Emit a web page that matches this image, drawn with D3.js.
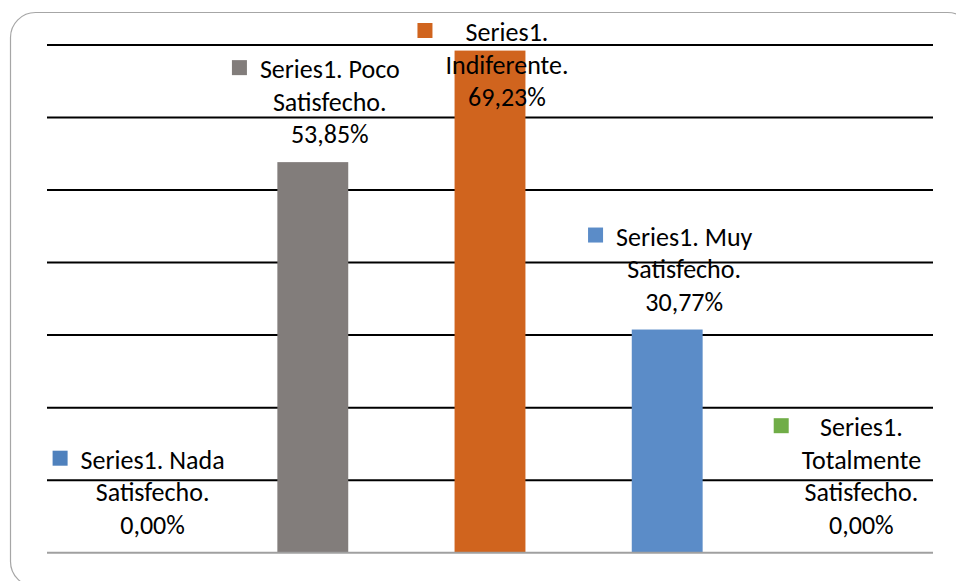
<!DOCTYPE html>
<html>
<head>
<meta charset="utf-8">
<script src="https://cdn.jsdelivr.net/npm/d3@7"></script>
<style>
  body { margin: 0; background: #fff; }
  svg { display: block; }
</style>
</head>
<body>
<div id="chart-area"></div>
<script>
/*
*    satisfaction bar chart
*/
var categories = ["Nada Satisfecho", "Poco Satisfecho", "Indiferente", "Muy Satisfecho", "Totalmente Satisfecho"];
var values = [0, 53.85, 69.23, 30.77, 0];
var barColors = ["#4f81bd", "#827d7b", "#d0641e", "#5b8cc8", "#70ad47"];
// how each data label wraps (percentage goes on the last line)
var labelLines = [
  ["Series1. Nada", "Satisfecho."],
  ["Series1. Poco", "Satisfecho."],
  ["Series1.", "Indiferente."],
  ["Series1. Muy", "Satisfecho."],
  ["Series1.", "Totalmente", "Satisfecho."]
];
var yTicks = [0, 10, 20, 30, 40, 50, 60, 70];

var width = 956, height = 581;
var font = "Calibri, Carlito, Lato, sans-serif";
var fontSize = 26;

var svg = d3.select("#chart-area")
  .append("svg")
  .attr("width", width)
  .attr("height", height);

// outer frame (rounded, runs off the right and bottom edge)
svg.append("rect")
  .attr("x", 10.5)
  .attr("y", 12.5)
  .attr("width", 962)
  .attr("height", 574)
  .attr("rx", 25)
  .attr("fill", "none")
  .attr("stroke", "#a6a6a6")
  .attr("stroke-width", 1.2);

var x = d3.scaleBand()
  .domain(categories)
  .range([47, 933])
  .paddingInner(0.6)
  .paddingOuter(0.3);

var y = d3.scaleLinear()
  .domain([0, 70])
  .range([552.7, 45]);

// gridlines
svg.append("g")
  .selectAll("line")
  .data(yTicks.filter(function(d) { return d > 0; }))
  .enter().append("line")
  .attr("x1", 47)
  .attr("x2", 933)
  .attr("y1", function(d) { return y(d); })
  .attr("y2", function(d) { return y(d); })
  .attr("stroke", "#000")
  .attr("stroke-width", 2);

// bars
svg.append("g")
  .selectAll("rect")
  .data(values)
  .enter().append("rect")
  .attr("x", function(d, i) { return x(categories[i]); })
  .attr("y", function(d) { return y(d); })
  .attr("width", x.bandwidth())
  .attr("height", function(d) { return y(0) - y(d); })
  .attr("fill", function(d, i) { return barColors[i]; });

// baseline
svg.append("line")
  .attr("x1", 47)
  .attr("x2", 933)
  .attr("y1", y(0))
  .attr("y2", y(0))
  .attr("stroke", "#a0a0a0")
  .attr("stroke-width", 2);

// data labels with legend key
var lineH = 32.5, keySize = 15, keyGap = 13;
var labels = svg.append("g");

values.forEach(function(v, i) {
  var lines = labelLines[i].concat([v.toFixed(2).replace(".", ",") + "%"]);
  var g = labels.append("g");
  var texts = g.selectAll("text")
    .data(lines)
    .enter().append("text")
    .attr("font-family", font)
    .attr("font-size", fontSize)
    .attr("fill", "#000")
    .attr("text-anchor", "middle")
    .text(function(d) { return d; });

  var maxW = 0;
  texts.each(function() { maxW = Math.max(maxW, this.getComputedTextLength()); });

  var cx = x(categories[i]) + x.bandwidth() / 2 + 3;
  var boxW = keySize + keyGap + maxW;
  var left = cx - boxW / 2;
  var textCx = left + keySize + keyGap + maxW / 2;

  var lastBase = y(v) - 19;
  var firstBase = lastBase - (lines.length - 1) * lineH;
  if (firstBase < 41) firstBase = 41;

  texts
    .attr("x", textCx)
    .attr("y", function(d, j) { return firstBase + j * lineH; });

  g.append("rect")
    .attr("x", left)
    .attr("y", firstBase - 18)
    .attr("width", keySize)
    .attr("height", keySize)
    .attr("fill", barColors[i]);
});
</script>
</body>
</html>
